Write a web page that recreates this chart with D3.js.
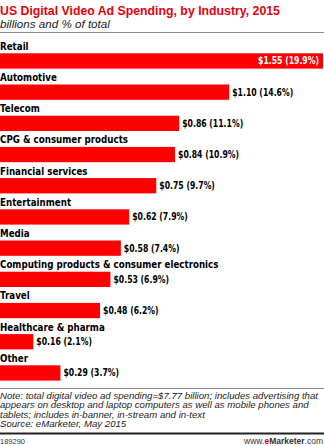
<!DOCTYPE html>
<html><head><meta charset="utf-8">
<script src="https://cdn.jsdelivr.net/npm/d3@7"></script>
<style>
html,body{margin:0;padding:0;background:#fff;}
svg{display:block;}
</style></head>
<body>
<script>
const categories = ["Retail","Automotive","Telecom","CPG & consumer products","Financial services","Entertainment","Media","Computing products & consumer electronics","Travel","Healthcare & pharma","Other"];
const values = [1.55,1.10,0.86,0.84,0.75,0.62,0.58,0.53,0.48,0.16,0.29];
const shares = [19.9,14.6,11.1,10.9,9.7,7.9,7.4,6.9,6.2,2.1,3.7];
const title = "US Digital Video Ad Spending, by Industry, 2015";
const subtitle = "billions and % of total";
const noteLines = ["Note: total digital video ad spending=$7.77 billion; includes advertising that","appears on desktop and laptop computers as well as mobile phones and","tablets; includes in-banner, in-stream and in-text","Source: eMarketer, May 2015"];
const chartId = "189290";

const W = 324, H = 446;
const svg = d3.select("body").append("svg").attr("width", W).attr("height", H);

function measure(sample, family, weight, style, size) {
  const t = svg.append("text").text(sample).attr("font-family", family)
    .attr("font-weight", weight).attr("font-style", style).attr("font-size", size);
  const len = t.node().getComputedTextLength();
  t.remove();
  return len;
}
function fitSize(sample, family, weight, style, target) {
  return 10 * target / measure(sample, family, weight, style, 10);
}
// horizontally scale each text by ratio
function condense(sel, ratio) {
  sel.each(function() {
    const len = this.getComputedTextLength();
    d3.select(this).attr("textLength", len * ratio).attr("lengthAdjust", "spacingAndGlyphs");
  });
}

const SANS = "Liberation Sans, Arial, sans-serif";
const BOLD = "DejaVu Sans, Verdana, sans-serif";

const titleSize = fitSize(title, SANS, "bold", "normal", 280);
svg.append("text").attr("x", 0).attr("y", 15).text(title)
  .attr("font-family", SANS).attr("font-weight","bold")
  .attr("font-size", titleSize).attr("fill", "#e8000b");
const subSize = fitSize(subtitle, SANS, "normal", "italic", 110);
svg.append("text").attr("x", 0).attr("y", 27.5).text(subtitle)
  .attr("font-family", SANS).attr("font-style","italic")
  .attr("font-size", subSize).attr("fill", "#222");
svg.append("line").attr("x1",0).attr("x2",W).attr("y1",32.5).attr("y2",32.5).attr("stroke","#8c8c8c").attr("stroke-width",1);

const x = d3.scaleLinear().domain([0, 1.55]).range([0, 323]);
const y = d3.scaleBand().domain(categories).range([53.3, 53.3 + 31.2*categories.length]).paddingInner(0);
const barH = 15.3;

const labelSize = 9.6;
const labelRatio = 128 / measure("CPG & consumer products", BOLD, "bold", "normal", labelSize);
const valueSize = 9.7;
const valueRatio = 61 / measure("$1.10 (14.6%)", BOLD, "bold", "normal", valueSize);

const rows = svg.selectAll("g.row").data(categories).join("g").attr("class","row")
  .attr("transform", d => `translate(0,${y(d)})`);

rows.append("text").attr("x",0).attr("y",-3.5).text(d=>d)
  .attr("font-family", BOLD).attr("font-weight","bold")
  .attr("font-size",labelSize).attr("fill","#000")
  .call(condense, labelRatio);

rows.append("rect").attr("x",0).attr("y",0).attr("height",barH)
  .attr("width",(d,i)=>x(values[i])).attr("fill","#ff0000");

const fmt = i => `$${values[i].toFixed(2)} (${shares[i].toFixed(1)}%)`;
rows.append("text")
  .attr("y",11.2)
  .text((d,i)=>fmt(i))
  .attr("font-family", BOLD).attr("font-weight","bold")
  .attr("font-size",valueSize).attr("fill",(d,i)=> i===0 ? "#fff" : "#000")
  .call(condense, valueRatio)
  .attr("x",function(d,i){
    // the widest bar carries its label inside, right-aligned
    if (i === 0) return x(values[i]) - 4 - (+this.getAttribute("textLength"));
    return x(values[i]) + 3;
  });

svg.append("line").attr("x1",0).attr("x2",W).attr("y1",388.5).attr("y2",388.5).attr("stroke","#8c8c8c").attr("stroke-width",1);

const noteSize = 8.4;
const noteRatio = 318 / measure(noteLines[0], SANS, "normal", "italic", noteSize);
svg.append("g").selectAll("text").data(noteLines).join("text")
  .attr("x",0).attr("y",(d,i)=>398.8 + i*9.5).text(d=>d)
  .attr("font-family", SANS).attr("font-style","italic")
  .attr("font-size",noteSize).attr("fill","#222")
  .call(condense, noteRatio);

svg.append("line").attr("x1",0).attr("x2",W).attr("y1",433.5).attr("y2",433.5).attr("stroke","#222").attr("stroke-width",2);
svg.append("text").attr("x",0).attr("y",443.5).text(chartId)
  .attr("font-family", SANS).attr("font-size",7.5).attr("fill","#333");
const brand = svg.append("text").attr("x",W-1).attr("y",443.5).attr("text-anchor","end")
  .attr("font-family", SANS).attr("font-size",8.5).attr("fill","#333");
brand.append("tspan").text("www.");
brand.append("tspan").text("e").attr("fill","#e8000b").attr("font-weight","bold");
brand.append("tspan").text("Marketer").attr("font-weight","bold");
brand.append("tspan").text(".com");
</script>
</body></html>
